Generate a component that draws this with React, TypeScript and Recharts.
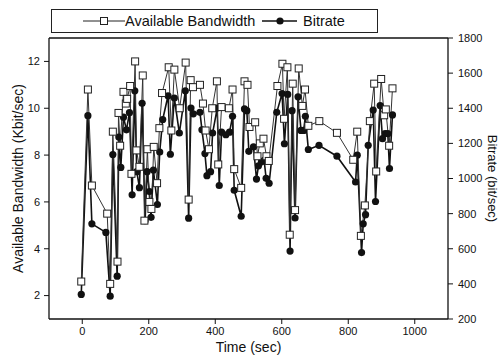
import React from 'react'
import { LineChart, Line, XAxis, YAxis, Legend } from 'recharts'

const FONT = '"Liberation Sans", Arial, sans-serif'
const INK = '#111'

// Available bandwidth (Kbit/sec), left axis
const bwTime = [
  -3, 17, 29, 75, 84, 92, 106, 109, 114, 124, 131, 135, 144, 148, 159, 163, 172, 182, 187, 196,
  202, 208, 215, 225, 232, 240, 260, 268, 277, 293, 311, 320, 326, 333, 354, 363, 371, 381, 391, 405,
  409, 419, 441, 452, 457, 478, 488, 497, 503, 520, 527, 534, 545, 554, 561, 587, 602, 607, 617, 624,
  633, 640, 651, 662, 670, 680, 713, 766, 815, 827, 838, 850, 865, 878, 884, 899, 908, 913, 923, 933,
]
const bwValue = [
  2.6, 10.8, 6.7, 5.5, 2.5, 9.0, 3.45, 9.8, 8.4, 10.7, 10.2, 10.4, 10.95, 7.2, 12.0, 8.2, 7.5, 11.4, 5.2, 8.25,
  6.0, 5.7, 8.35, 6.8, 9.15, 10.65, 11.75, 9.05, 11.65, 10.0, 11.95, 6.1, 11.2, 10.9, 11.0, 10.2, 9.05, 8.25, 10.0, 11.15,
  7.6, 10.05, 10.0, 10.8, 7.4, 6.6, 11.15, 11.0, 9.2, 9.4, 7.95, 8.5, 8.7, 7.95, 7.75, 10.95, 11.9, 9.55, 11.75, 4.6,
  11.05, 5.65, 11.7, 10.1, 10.8, 9.25, 9.45, 8.95, 7.8, 9.0, 4.55, 5.85, 9.45, 11.05, 7.3, 11.25, 9.7, 9.95, 8.4, 10.85,
]

// Bitrate (bit/sec), right axis
const brTime = [
  -3, 17, 29, 71, 84, 92, 105, 110, 116, 124, 133, 142, 150, 158, 164, 172, 180, 189, 195, 202,
  207, 214, 226, 233, 242, 258, 265, 277, 292, 310, 320, 327, 334, 354, 360, 369, 375, 386, 392, 406,
  412, 419, 432, 443, 452, 457, 478, 488, 495, 501, 515, 524, 530, 539, 547, 553, 562, 585, 601, 608,
  618, 625, 631, 640, 649, 658, 666, 671, 680, 712, 766, 822, 827, 840, 845, 852, 860, 875, 882, 896,
  903, 911, 919, 924, 933,
]
const brValue = [
  340, 1358, 742, 693, 330, 1136, 444, 1236, 1063, 1349, 1277, 1375, 907, 1499, 1039, 948, 1428, 760, 1039, 926,
  779, 1048, 852, 1151, 1336, 1471, 1138, 1458, 1259, 1499, 774, 1401, 1368, 1377, 1277, 1142, 1016, 1039, 1259, 1401,
  960, 1264, 1249, 1264, 1354, 933, 785, 1396, 1386, 1155, 1180, 997, 1072, 1095, 1104, 1001, 973, 1377, 1484, 1198,
  1479, 587, 1386, 775, 1465, 1274, 1274, 1354, 1165, 1189, 1127, 980, 1133, 578, 742, 794, 1189, 1390, 869, 1415,
  1227, 1255, 1255, 1057, 1362,
]

const xTicks = [0, 200, 400, 600, 800, 1000]
const xMinor = [100, 300, 500, 700, 900]
const xTop = [0, 100, 200, 300, 400, 500, 600, 700, 800, 900, 1000]
const bwTicks = [2, 4, 6, 8, 10, 12]
const bwMinor = [3, 5, 7, 9, 11]
const brTicks = [200, 400, 600, 800, 1000, 1200, 1400, 1600, 1800]
const brMinor = [300, 500, 700, 900, 1100, 1300, 1500, 1700]

const bwData = bwTime.map((t, i) => ({ t, bw: bwValue[i] }))
const brData = brTime.map((t, i) => ({ t, br: brValue[i] }))

const tickStyle = { fill: INK, fontSize: 11, fontFamily: FONT }
const blank = () => ''

const SquareDot = (p: any) => (
  <rect key={`s${p.index}`} x={p.cx - 3.5} y={p.cy - 3.5} width={7} height={7} fill="#fff" stroke="#222" strokeWidth={1} />
)
const CircleDot = (p: any) => <circle key={`c${p.index}`} cx={p.cx} cy={p.cy} r={3.6} fill={INK} />

const LegendBox = () => (
  <div style={{ position: 'relative', width: 327, height: 24, border: '1px solid #222', boxSizing: 'border-box', fontFamily: FONT, fontSize: 14.5, color: INK }}>
    <svg width={42} height={10} style={{ position: 'absolute', left: 31, top: 6 }}>
      <line x1={0} y1={5} x2={42} y2={5} stroke="#222" strokeWidth={1} />
      <rect x={17.5} y={1.5} width={7} height={7} fill="#fff" stroke="#222" />
    </svg>
    <span style={{ position: 'absolute', left: 73, top: 2, lineHeight: '18px' }}>Available Bandwidth</span>
    <svg width={35} height={10} style={{ position: 'absolute', left: 210, top: 6 }}>
      <line x1={0} y1={5} x2={35} y2={5} stroke={INK} strokeWidth={1.6} />
      <circle cx={18} cy={5} r={3.6} fill={INK} />
    </svg>
    <span style={{ position: 'absolute', left: 251, top: 2, lineHeight: '18px' }}>Bitrate</span>
  </div>
)

export default function App() {
  return (
    <div style={{ position: 'absolute', left: 0, top: 0, background: '#fff' }}>
      <LineChart width={502} height={363} margin={{ top: 38, right: 0, bottom: 0, left: 0 }}>
        {/* minor tick axes first so they sit on the frame */}
        <XAxis xAxisId="minor" dataKey="t" type="number" domain={[-100, 1100]} ticks={xMinor} height={1}
          tickSize={3} tickFormatter={blank} axisLine={false} tickLine={{ stroke: INK }} />
        <XAxis xAxisId="top" orientation="top" dataKey="t" type="number" domain={[-100, 1100]} ticks={xTop} height={1}
          mirror tickSize={4} tickFormatter={blank} axisLine={{ stroke: INK, strokeWidth: 1.3 }} tickLine={{ stroke: INK }} />
        <YAxis yAxisId="lminor" orientation="left" type="number" domain={[1, 13]} ticks={bwMinor} width={1}
          mirror tickSize={3} tickFormatter={blank} axisLine={false} tickLine={{ stroke: INK }} />
        <YAxis yAxisId="rminor" orientation="right" type="number" domain={[200, 1800]} ticks={brMinor} width={1}
          tickSize={3} tickFormatter={blank} axisLine={false} tickLine={{ stroke: INK }} />

        <XAxis dataKey="t" type="number" domain={[-100, 1100]} ticks={xTicks} height={43} allowDataOverflow
          tick={tickStyle} tickSize={5} tickMargin={3} axisLine={{ stroke: INK, strokeWidth: 1.3 }} tickLine={{ stroke: INK }}
          label={{ value: 'Time (sec)', position: 'center', dy: 7, style: { fill: INK, fontSize: 14, fontFamily: FONT } }} />
        <YAxis yAxisId="left" type="number" domain={[1, 13]} ticks={bwTicks} width={49} allowDataOverflow
          tick={tickStyle} tickSize={5} tickMargin={4} axisLine={{ stroke: INK, strokeWidth: 1.3 }} tickLine={{ stroke: INK }}
          label={{ value: 'Available Bandwidth (Kbit/sec)', angle: -90, position: 'center', dx: -6.5, style: { fill: INK, fontSize: 14, fontFamily: FONT } }} />
        <YAxis yAxisId="right" orientation="right" type="number" domain={[200, 1800]} ticks={brTicks} width={53} allowDataOverflow
          tick={tickStyle} tickSize={5} tickMargin={5} axisLine={{ stroke: INK, strokeWidth: 1.3 }} tickLine={{ stroke: INK }}
          label={{ value: 'Bitrate (bit/sec)', angle: 90, position: 'center', dx: 18.5, style: { fill: INK, fontSize: 13, fontFamily: FONT } }} />

        <Legend layout="horizontal" verticalAlign="middle" align="center" content={<LegendBox />}
          wrapperStyle={{ top: 9, left: 51, width: 327, height: 24 }} />

        <Line data={brData} yAxisId="right" dataKey="br" name="Bitrate" stroke={INK} strokeWidth={1.6}
          dot={CircleDot} activeDot={false} isAnimationActive={false} />
        <Line data={bwData} yAxisId="left" dataKey="bw" name="Available Bandwidth" stroke="#333" strokeWidth={1}
          dot={SquareDot} activeDot={false} isAnimationActive={false} />
      </LineChart>
    </div>
  )
}
